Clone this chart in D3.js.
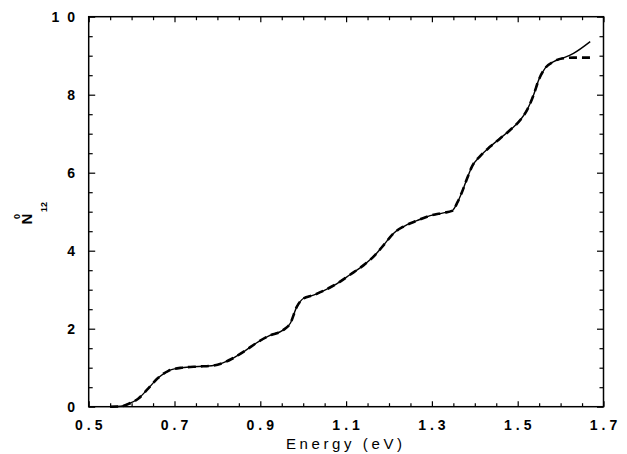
<!DOCTYPE html>
<html>
<head>
<meta charset="utf-8">
<script src="https://cdn.jsdelivr.net/npm/d3@7"></script>
<style>
  html, body { margin: 0; padding: 0; background: #fff; }
  svg { display: block; }
  .tick-label { font-family: "Liberation Sans", Arial, sans-serif; font-size: 14px; font-weight: bold; fill: #000; }
  .axis-title { font-family: "Liberation Sans", Arial, sans-serif; font-size: 15px; fill: #000; }
</style>
</head>
<body>
<svg id="chart" width="627" height="454"></svg>
<script>
// energy grid (eV)
const energy = [
  0.55, 0.575, 0.592, 0.616, 0.639, 0.662, 0.686, 0.717, 0.756, 0.787,
  0.810, 0.834, 0.865, 0.896, 0.919, 0.954, 0.970, 0.985, 1.001, 1.024,
  1.047, 1.078, 1.110, 1.141, 1.164, 1.188, 1.211, 1.234, 1.265, 1.296,
  1.327, 1.347, 1.360, 1.370, 1.382, 1.393, 1.413, 1.436, 1.459, 1.483,
  1.506, 1.522, 1.537, 1.549, 1.564, 1.584, 1.603, 1.630, 1.669
]
// solid curve
const nSolid = [
  0.00, 0.01, 0.07, 0.21, 0.47, 0.74, 0.92, 1.00, 1.03, 1.05,
  1.11, 1.23, 1.44, 1.67, 1.81, 1.97, 2.14, 2.56, 2.78, 2.86,
  2.97, 3.15, 3.39, 3.63, 3.85, 4.15, 4.45, 4.62, 4.77, 4.90,
  4.97, 5.02, 5.25, 5.50, 5.85, 6.15, 6.43, 6.67, 6.88, 7.10,
  7.35, 7.61, 7.99, 8.38, 8.68, 8.85, 8.93, 9.06, 9.36
]
// dashed curve (same as solid until it levels off)
const nDashed = [
  0.00, 0.01, 0.07, 0.21, 0.47, 0.74, 0.92, 1.00, 1.03, 1.05,
  1.11, 1.23, 1.44, 1.67, 1.81, 1.97, 2.14, 2.56, 2.78, 2.86,
  2.97, 3.15, 3.39, 3.63, 3.85, 4.15, 4.45, 4.62, 4.77, 4.90,
  4.97, 5.02, 5.25, 5.50, 5.85, 6.15, 6.43, 6.67, 6.88, 7.10,
  7.35, 7.61, 7.99, 8.38, 8.68, 8.85, 8.93, 8.95, 8.95
]

const xTickLabels = [0.5, 0.7, 0.9, 1.1, 1.3, 1.5, 1.7]
const yTickLabels = [0, 2, 4, 6, 8, 10]

const plotLeft = 88.7, plotRight = 603.5, plotTop = 16.7, plotBottom = 406.7

const x = d3.scaleLinear().domain([0.5, 1.7]).range([plotLeft, plotRight])
const y = d3.scaleLinear().domain([0, 10]).range([plotBottom, plotTop])

const svg = d3.select('#chart')

const xMinor = d3.range(0.5, 1.7001, 0.05).filter(v => !xTickLabels.some(t => Math.abs(t - v) < 1e-6))
const yMinor = d3.range(0, 10.001, 0.5).filter(v => !yTickLabels.some(t => Math.abs(t - v) < 1e-6))

// inward ticks on all four sides
function ticks(axisFn, scale, values, size) {
  return axisFn(scale).tickValues(values).tickSize(size).tickFormat('')
}

const axes = svg.append('g')

axes.append('g').attr('transform', `translate(0,${plotBottom})`)
  .call(ticks(d3.axisTop, x, xTickLabels, 5.5))
axes.append('g').attr('transform', `translate(0,${plotBottom})`)
  .call(ticks(d3.axisTop, x, xMinor, 3.5))
axes.append('g').attr('transform', `translate(0,${plotTop})`)
  .call(ticks(d3.axisBottom, x, xTickLabels, 5.5))
axes.append('g').attr('transform', `translate(0,${plotTop})`)
  .call(ticks(d3.axisBottom, x, xMinor, 3.5))
axes.append('g').attr('transform', `translate(${plotLeft},0)`)
  .call(ticks(d3.axisRight, y, yTickLabels, 6.5))
axes.append('g').attr('transform', `translate(${plotLeft},0)`)
  .call(ticks(d3.axisRight, y, yMinor, 4))
axes.append('g').attr('transform', `translate(${plotRight},0)`)
  .call(ticks(d3.axisLeft, y, yTickLabels, 6.5))
axes.append('g').attr('transform', `translate(${plotRight},0)`)
  .call(ticks(d3.axisLeft, y, yMinor, 4))

axes.selectAll('.domain').remove()
axes.selectAll('line').attr('stroke', '#000').attr('stroke-width', 1.2)

svg.append('rect')
  .attr('x', plotLeft).attr('y', plotTop)
  .attr('width', plotRight - plotLeft).attr('height', plotBottom - plotTop)
  .attr('fill', 'none').attr('stroke', '#000').attr('stroke-width', 1.5)

// tick labels
const xLs = 4
svg.append('g').selectAll('text').data(xTickLabels).enter().append('text')
  .attr('class', 'tick-label')
  .attr('x', d => x(d) + xLs / 2)
  .attr('y', 430)
  .attr('text-anchor', 'middle')
  .style('letter-spacing', `${xLs}px`)
  .text(d => d3.format('.1f')(d))

const yLs = 8
svg.append('g').selectAll('text').data(yTickLabels).enter().append('text')
  .attr('class', 'tick-label')
  .attr('x', 75 + yLs)
  .attr('y', d => y(d) + 5)
  .attr('text-anchor', 'end')
  .style('letter-spacing', `${yLs}px`)
  .text(d => d)

// axis titles
svg.append('text')
  .attr('class', 'axis-title')
  .attr('x', 344 + 1.8)
  .attr('y', 449)
  .attr('text-anchor', 'middle')
  .style('letter-spacing', '3.6px')
  .text('Energy (eV)')

const yTitle = svg.append('g')
  .attr('transform', 'translate(32,224.5) rotate(-90)')
  .attr('font-family', '"Liberation Sans", Arial, sans-serif')
  .attr('font-weight', 'bold')
yTitle.append('text').attr('x', 0).attr('y', 0).attr('font-size', 15).text('N')
yTitle.append('text').attr('x', 5.5).attr('y', -12).attr('font-size', 9).text('0')
yTitle.append('text').attr('x', 12.5).attr('y', 15).attr('font-size', 9).text('12')

// curves
const line = d3.line()
  .x(d => x(d[0]))
  .y(d => y(d[1]))
  .curve(d3.curveMonotoneX)

svg.append('path')
  .datum(energy.map((e, i) => [e, nSolid[i]]))
  .attr('d', line)
  .attr('fill', 'none')
  .attr('stroke', '#000')
  .attr('stroke-width', 1.4)

svg.append('path')
  .datum(energy.map((e, i) => [e, nDashed[i]]))
  .attr('d', line)
  .attr('fill', 'none')
  .attr('stroke', '#000')
  .attr('stroke-width', 2.6)
  .attr('stroke-dasharray', '8,5')
</script>
</body>
</html>
